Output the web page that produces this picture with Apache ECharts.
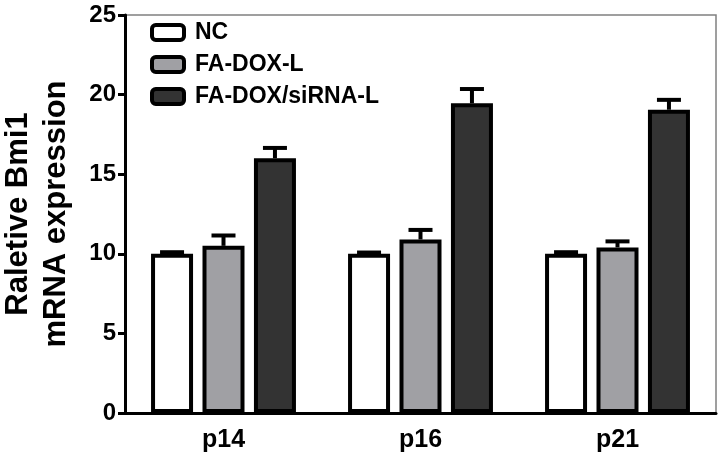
<!DOCTYPE html>
<html>
<head>
<meta charset="utf-8">
<script src="https://cdn.jsdelivr.net/npm/echarts@6/dist/echarts.min.js"></script>
<style>
  html, body { margin: 0; padding: 0; background: #fff; }
  #chart { width: 721px; height: 465px; }
</style>
</head>
<body>
<div id="chart"></div>
<script>
// data
const categories = ['p14', 'p16', 'p21'];
const seriesNames = ['NC', 'FA-DOX-L', 'FA-DOX/siRNA-L'];
const ncValues = [10.0, 10.0, 10.0];
const ncErrors = [0.1, 0.08, 0.1];
const lowValues = [10.5, 10.9, 10.4];
const lowErrors = [0.65, 0.6, 0.38];
const sirnaValues = [16.0, 19.45, 19.05];
const sirnaErrors = [0.65, 0.9, 0.62];
const yTicks = [0, 5, 10, 15, 20, 25];

const values = [ncValues, lowValues, sirnaValues];
const errors = [ncErrors, lowErrors, sirnaErrors];
const colors = ['#ffffff', '#a0a0a4', '#333333'];

// bar geometry
const BAR_W = 42;
const BAR_GAP = 0.225;
const STEP = BAR_W * (1 + BAR_GAP);
const FONT = '"Liberation Sans", Arial, sans-serif';

const chart = echarts.init(document.getElementById('chart'));

const barSeries = seriesNames.map((name, i) => ({
  name: name,
  type: 'bar',
  barWidth: BAR_W,
  barGap: (BAR_GAP * 100) + '%',
  data: values[i],
  z: 3,
  itemStyle: {
    color: colors[i],
    borderColor: '#000',
    borderWidth: 4
  }
}));

const errSeries = seriesNames.map((name, i) => ({
  type: 'custom',
  z: 2,
  silent: true,
  data: values[i].map((v, k) => [k, v, errors[i][k]]),
  encode: { x: 0, y: 1 },
  renderItem: function (params, api) {
    const k = api.value(0);
    const v = api.value(1);
    const e = api.value(2);
    const base = api.coord([k, v]);
    const top = api.coord([k, v + e]);
    const x = base[0] + (i - 1) * STEP;
    return {
      type: 'group',
      children: [
        { type: 'line', shape: { x1: x, y1: base[1], x2: x, y2: top[1] },
          style: { stroke: '#000', lineWidth: 4 } },
        { type: 'line', shape: { x1: x - 12, y1: top[1], x2: x + 12, y2: top[1] },
          style: { stroke: '#000', lineWidth: 4 } }
      ]
    };
  }
}));

const option = {
  animation: false,
  grid: {
    left: 125, right: 5, top: 15, bottom: 52,
    containLabel: false,
    outerBoundsMode: 'none',
    show: true,
    borderColor: '#808080',
    borderWidth: 1.5
  },
  legend: {
    orient: 'vertical',
    left: 145,
    top: 16,
    itemWidth: 32,
    itemHeight: 15,
    itemGap: 9,
    selectedMode: false,
    data: seriesNames,
    itemStyle: { borderColor: '#000', borderWidth: 4 },
    textStyle: {
      fontFamily: FONT, fontSize: 23, fontWeight: 'bold', color: '#000',
      padding: [0, 0, 0, 6]
    }
  },
  xAxis: {
    type: 'category',
    data: categories,
    axisLine: { lineStyle: { color: '#000', width: 3 } },
    axisTick: { alignWithLabel: true, length: 8, lineStyle: { color: '#000', width: 3 } },
    axisLabel: {
      margin: 15, color: '#000', fontFamily: FONT, fontSize: 25, fontWeight: 'bold'
    },
    splitLine: { show: false }
  },
  yAxis: {
    type: 'value',
    min: yTicks[0],
    max: yTicks[yTicks.length - 1],
    interval: 5,
    name: 'Raletive Bmi1\nmRNA expression',
    nameLocation: 'middle',
    nameRotate: 90,
    nameGap: 50,
    nameTextStyle: {
      fontFamily: FONT, fontSize: 31, fontWeight: 'bold', color: '#000', lineHeight: 38
    },
    axisLine: { show: true, lineStyle: { color: '#000', width: 3 } },
    axisTick: { show: true, length: 7, lineStyle: { color: '#000', width: 3 } },
    axisLabel: {
      margin: 9, color: '#000', fontFamily: FONT, fontSize: 24, fontWeight: 'bold'
    },
    splitLine: { show: false }
  },
  series: barSeries.concat(errSeries)
};

chart.setOption(option);
</script>
</body>
</html>
